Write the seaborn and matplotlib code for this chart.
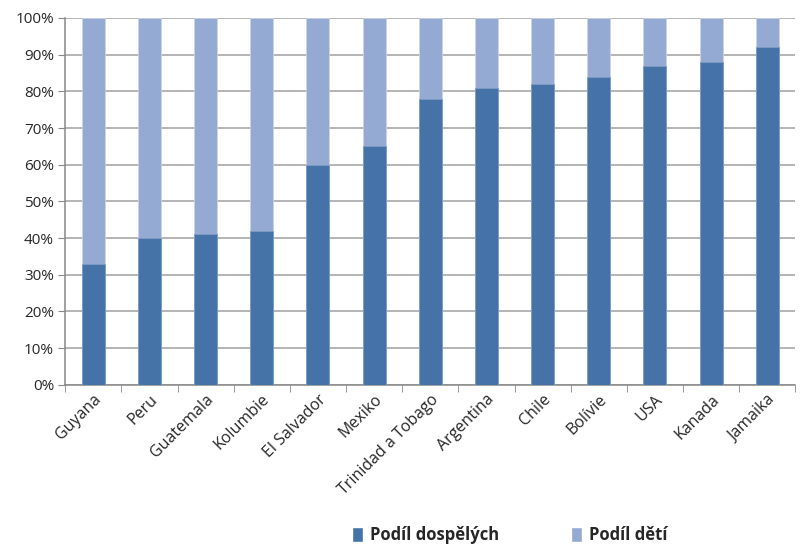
import pandas as pd
import numpy as np
import matplotlib
matplotlib.use("Agg")
import matplotlib.pyplot as plt
import seaborn as sns
from matplotlib.patches import Patch
from matplotlib.ticker import PercentFormatter, FixedLocator

# Podíl dospělých vs. dětí (%)
countries = ['Guyana', 'Peru', 'Guatemala', 'Kolumbie', 'El Salvador', 'Mexiko',
             'Trinidad a Tobago', 'Argentina', 'Chile', 'Bolívie', 'USA', 'Kanada', 'Jamaika']
adults = [33, 40, 41, 42, 60, 65, 78, 81, 82, 84, 87, 88, 92]
children = [100 - a for a in adults]

df = pd.DataFrame({'Země': countries, 'Dospělí': adults, 'Děti': children})
df['Celkem'] = df['Dospělí'] + df['Děti']

dark = '#4573A7'
light = '#95AAD2'

sns.set_style('white')
plt.rcParams['font.family'] = ['Open Sans', 'DejaVu Sans']

fig = plt.figure(figsize=(8.05, 5.45), dpi=100)
ax = fig.add_axes([0.081, 0.294, 0.907, 0.673])

sns.barplot(data=df, x='Země', y='Celkem', color=light, width=0.41, saturation=1,
            edgecolor='#C9D4EA', linewidth=0.6, ax=ax, zorder=2)
sns.barplot(data=df, x='Země', y='Dospělí', color=dark, width=0.41, saturation=1,
            edgecolor='#7F9CC4', linewidth=0.6, ax=ax, zorder=3)

ax.set_ylim(0, 100)
ax.set_xlim(-0.5, len(countries) - 0.5)
ax.yaxis.set_major_locator(FixedLocator(np.arange(0, 101, 10)))
ax.yaxis.set_major_formatter(PercentFormatter(decimals=0))
ax.grid(axis='y', color='#A0A0A0', linewidth=1.1, zorder=0)
ax.set_axisbelow(True)
ax.set_xlabel('')
ax.set_ylabel('')

for s in ['top', 'right']:
    ax.spines[s].set_visible(False)
for s in ['left', 'bottom']:
    ax.spines[s].set_color('#888888')
    ax.spines[s].set_linewidth(1.1)

ax.tick_params(axis='y', which='major', direction='out', length=5, color='#888888',
               labelsize=11, pad=3, left=True)
ax.tick_params(axis='x', which='major', length=0, labelsize=11.5, pad=5)
ax.set_xticks(np.arange(-0.5, len(countries), 1), minor=True)
ax.tick_params(axis='x', which='minor', direction='out', length=5, color='#888888', bottom=True)
plt.setp(ax.get_xticklabels(), rotation=45, ha='right', rotation_mode='anchor')

handles = [Patch(facecolor=dark, label='Podíl dospělých'),
           Patch(facecolor=light, label='Podíl dětí')]
fig.legend(handles=handles, loc='center', bbox_to_anchor=(0.633, 0.018), ncol=2,
           frameon=False, prop={'weight': 'bold', 'size': 12},
           handlelength=0.7, handleheight=1.0, columnspacing=4.3, handletextpad=0.4)

fig.savefig('out.png', dpi=100)
